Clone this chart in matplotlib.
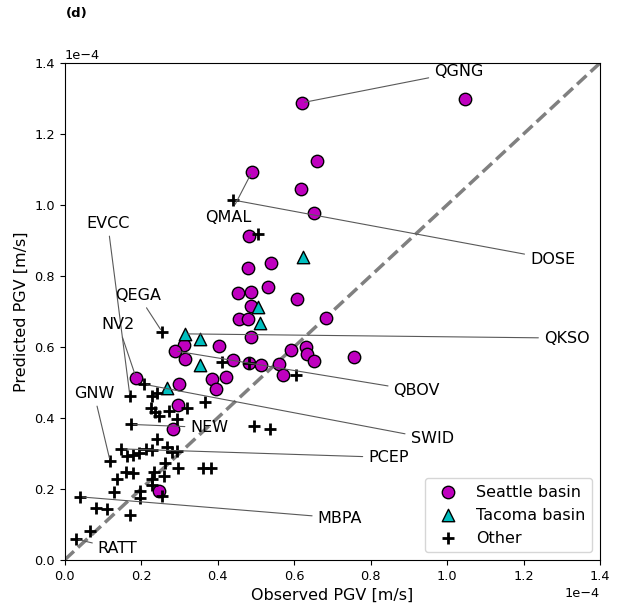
import numpy as np
import matplotlib
matplotlib.use('Agg')
import matplotlib.pyplot as plt

# values in units of 1e-4 m/s (observed, predicted)
seattle_obs = [0.621, 1.048, 0.660, 0.490, 0.618, 0.651, 0.482, 0.480, 0.541, 0.454,
               0.487, 0.533, 0.608, 0.487, 0.456, 0.481, 0.683, 0.487, 0.312, 0.403,
               0.289, 0.592, 0.631, 0.635, 0.315, 0.441, 0.482, 0.514, 0.561, 0.653,
               0.757, 0.570, 0.187, 0.385, 0.422, 0.299, 0.396, 0.297, 0.284, 0.247]
seattle_pred = [1.288, 1.300, 1.123, 1.093, 1.044, 0.977, 0.913, 0.822, 0.837, 0.753,
                0.755, 0.768, 0.736, 0.716, 0.680, 0.680, 0.683, 0.627, 0.605, 0.602,
                0.589, 0.591, 0.601, 0.580, 0.565, 0.562, 0.556, 0.549, 0.552, 0.560,
                0.573, 0.521, 0.514, 0.511, 0.516, 0.495, 0.481, 0.438, 0.368, 0.195]

tacoma_obs = [0.623, 0.505, 0.511, 0.315, 0.353, 0.353, 0.267]
tacoma_pred = [0.853, 0.712, 0.667, 0.637, 0.623, 0.549, 0.484]

other_obs = [0.441, 0.505, 0.255, 0.413, 0.482, 0.606, 0.208, 0.171, 0.229, 0.242,
             0.368, 0.227, 0.236, 0.247, 0.274, 0.319, 0.293, 0.173, 0.495, 0.537,
             0.243, 0.148, 0.163, 0.178, 0.196, 0.214, 0.229, 0.267, 0.282, 0.293,
             0.119, 0.262, 0.297, 0.363, 0.383, 0.233, 0.230, 0.228, 0.261, 0.160,
             0.178, 0.137, 0.130, 0.198, 0.198, 0.255, 0.040, 0.082, 0.112, 0.171,
             0.066, 0.030]
other_pred = [1.014, 0.919, 0.643, 0.557, 0.554, 0.521, 0.495, 0.462, 0.463, 0.470,
              0.444, 0.429, 0.416, 0.406, 0.420, 0.427, 0.397, 0.382, 0.378, 0.369,
              0.340, 0.313, 0.293, 0.296, 0.302, 0.312, 0.310, 0.319, 0.305, 0.307,
              0.280, 0.272, 0.260, 0.260, 0.258, 0.248, 0.228, 0.212, 0.237, 0.247,
              0.246, 0.228, 0.191, 0.194, 0.176, 0.179, 0.178, 0.146, 0.143, 0.127,
              0.082, 0.059]

# station labels: name, point (obs, pred), text position
station_names = ['QGNG', 'QMAL', 'DOSE', 'EVCC', 'QEGA', 'NV2', 'QKSO', 'QBOV',
                 'SWID', 'NEW', 'GNW', 'PCEP', 'MBPA', 'RATT']
station_pts = [(0.621, 1.288), (0.490, 1.093), (0.441, 1.014), (0.171, 0.462),
               (0.255, 0.643), (0.187, 0.514), (0.315, 0.637), (0.289, 0.589),
               (0.208, 0.495), (0.173, 0.382), (0.119, 0.280), (0.148, 0.313),
               (0.040, 0.178), (0.030, 0.059)]
station_txt = [(1.031, 1.375), (0.429, 0.966), (1.276, 0.847), (0.113, 0.949),
               (0.193, 0.746), (0.140, 0.664), (1.313, 0.625), (0.921, 0.477),
               (0.961, 0.341), (0.379, 0.373), (0.077, 0.470), (0.847, 0.289),
               (0.720, 0.118), (0.139, 0.031)]

sc = 1e-4

fig = plt.figure(figsize=(6.19, 6.10), dpi=100)
ax = fig.add_axes([64.5 / 619, 50 / 610, 535.5 / 619, 497 / 610])

# 1:1 line
ax.plot([0, 1.4 * sc], [0, 1.4 * sc], color='gray', linestyle='--', linewidth=2.5, zorder=1)

ax.scatter(np.array(seattle_obs) * sc, np.array(seattle_pred) * sc, s=80, c='m',
           edgecolors='k', linewidths=1.0, marker='o', label='Seattle basin', zorder=2)
ax.scatter(np.array(tacoma_obs) * sc, np.array(tacoma_pred) * sc, s=80, c='c',
           edgecolors='k', linewidths=1.0, marker='^', label='Tacoma basin', zorder=2)
ax.scatter(np.array(other_obs) * sc, np.array(other_pred) * sc, s=70, c='k',
           linewidths=2.0, marker='+', label='Other', zorder=2)

for name, p, t in zip(station_names, station_pts, station_txt):
    ax.annotate(name, xy=(p[0] * sc, p[1] * sc), xytext=(t[0] * sc, t[1] * sc),
                ha='center', va='center', fontsize=11.5,
                arrowprops=dict(arrowstyle='-', color='0.35', lw=0.8))

ax.set_xlim(0, 1.4 * sc)
ax.set_ylim(0, 1.4 * sc)
ticks = np.arange(0, 1.41, 0.2) * sc
ax.set_xticks(ticks)
ax.set_yticks(ticks)
ax.ticklabel_format(style='sci', axis='both', scilimits=(-4, -4))
ax.tick_params(labelsize=9.3)
ax.xaxis.get_offset_text().set_fontsize(9.3)
ax.yaxis.get_offset_text().set_fontsize(9.3)

ax.set_xlabel('Observed PGV [m/s]', fontsize=11.5)
ax.set_ylabel('Predicted PGV [m/s]', fontsize=11.5)

ax.legend(loc='lower right', fontsize=11.5)

fig.text(66 / 619, 1 - 14 / 610, '(d)', fontweight='bold', fontsize=9.5, va='center')

fig.savefig('out.png', dpi=100)
